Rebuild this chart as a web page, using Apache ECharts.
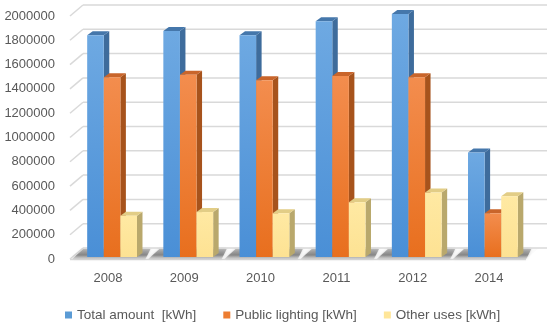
<!DOCTYPE html>
<html><head><meta charset="utf-8">
<script src="https://cdn.jsdelivr.net/npm/echarts@6/dist/echarts.min.js"></script>
<style>html,body{margin:0;padding:0;background:#fff}#c{width:550px;height:326px}</style>
</head><body><div id="c"></div>
<script>
const categories = ['2008', '2009', '2010', '2011', '2012', '2014'];
const totalAmount = [1825000, 1860000, 1825000, 1940000, 2000000, 860000];
const publicLighting = [1480000, 1500000, 1455000, 1490000, 1480000, 360000];
const otherUses = [340000, 370000, 360000, 450000, 530000, 500000];
const yTicks = [0, 200000, 400000, 600000, 800000, 1000000, 1200000, 1400000, 1600000, 1800000, 2000000];
const seriesNames = ['Total amount  [kWh]', 'Public lighting [kWh]', 'Other uses [kWh]'];

const DX = 13, DY = -11;      // wall depth
const BDX = 5.5, BDY = -4;    // bar depth
const palette = [
  {front: ['#6ea9e2', '#4a8fd6'], side: '#3e6c9c', top: '#4577ab', legend: '#5b9bd5'},
  {front: ['#f38d4e', '#e86f1e'], side: '#a7531c', top: '#c9652b', legend: '#ed7d31'},
  {front: ['#ffe9a3', '#fde293'], side: '#b9a86c', top: '#e2cd86', legend: '#ffe699'}
];

function barGeom(params, api, idx) {
  const c = api.value(0), v = api.value(1);
  const top = api.coord([c, v]);
  const base = api.coord([c, 0]);
  const bw = api.size([1, 0])[0];
  const w = bw * 0.218;
  const x0 = top[0] + (idx - 1.5) * w + 4;
  return {x0: x0, x1: x0 + w, yT: top[1] - 2, yB: base[1] - 2, w: w};
}

function makeBar(idx) {
  const p = palette[idx];
  return function (params, api) {
    const g = barGeom(params, api, idx);
    return {
      type: 'group',
      children: [
        {type: 'polygon', shape: {points: [[g.x1, g.yB], [g.x1 + BDX, g.yB + BDY], [g.x1 + BDX, g.yT + BDY], [g.x1, g.yT]]},
          style: {fill: p.side}},
        {type: 'polygon', shape: {points: [[g.x0, g.yT], [g.x0 + BDX, g.yT + BDY], [g.x1 + BDX, g.yT + BDY], [g.x1, g.yT]]},
          style: {fill: p.top}},
        {type: 'rect', shape: {x: g.x0, y: g.yT, width: g.w, height: g.yB - g.yT},
          style: {fill: new echarts.graphic.LinearGradient(0, 0, 0, 1, [{offset: 0, color: p.front[0]}, {offset: 1, color: p.front[1]}])}}
      ]
    };
  };
}

function shadowItem(params, api) {
  const c = api.value(0);
  const base = api.coord([c, 0]);
  const bw = api.size([1, 0])[0];
  const w = bw * 0.218;
  const x0 = base[0] - 1.5 * w + 4;
  const x1 = x0 + 3 * w;
  const y = base[1];
  return {
    type: 'polygon',
    shape: {points: [[x0 - 15, y], [x1 + BDX + 3, y], [x1 + BDX + 8, y - 10], [x0 - 4, y - 10]]},
    style: {
      fill: new echarts.graphic.LinearGradient(0, 0, 0, 1, [
        {offset: 0, color: 'rgba(120,120,120,0.45)'},
        {offset: 0.6, color: 'rgba(110,110,110,0.75)'},
        {offset: 1, color: 'rgba(170,170,170,0.35)'}]),
      shadowBlur: 3, shadowColor: 'rgba(0,0,0,0.25)'
    }
  };
}

function wallItem(params, api) {
  const v = api.value(0);
  const cs = params.coordSys;
  const pt = api.coord([0, v]);
  const y = pt[1];
  const children = [
    {type: 'line', shape: {x1: cs.x, y1: y - DY, x2: cs.x + DX, y2: y}, style: {stroke: '#d9d9d9', lineWidth: 1.5}},
    {type: 'line', shape: {x1: cs.x + DX, y1: y, x2: cs.x + cs.width, y2: y}, style: {stroke: '#d9d9d9', lineWidth: 1.5}}
  ];
  if (v === 0) {
    children.unshift({type: 'polygon', shape: {points: [[cs.x, y - DY], [cs.x + cs.width - 2 * DX + 5, y - DY], [cs.x + cs.width - DX + 5, y], [cs.x + DX, y]]},
      style: {fill: '#fbfbfb'}});
    children.push({type: 'line', shape: {x1: cs.x, y1: y - DY + 0.5, x2: cs.x + cs.width - 2 * DX + 5, y2: y - DY + 0.5}, style: {stroke: '#d9d9d9', lineWidth: 1.5}});
  }
  return {type: 'group', children: children};
}

const chart = echarts.init(document.getElementById('c'), null, {renderer: 'canvas'});
const font = 'Liberation Sans, Arial, sans-serif';
chart.setOption({
  animation: false,
  textStyle: {fontFamily: font},
  legend: {
    data: seriesNames, top: 303, left: 60, itemWidth: 7, itemHeight: 7, itemGap: 27,
    icon: 'rect', textStyle: {fontSize: 13.5, color: '#595959', fontFamily: font}
  },
  grid: [
    {left: 70, right: 23, top: 16, bottom: 67, containLabel: false, outerBoundsMode: 'none'},
    {left: 70, right: 3, top: 5, bottom: 78, containLabel: false, outerBoundsMode: 'none'}
  ],
  xAxis: [
    {type: 'category', data: categories, gridIndex: 0, axisLine: {show: false}, axisTick: {show: false},
      axisLabel: {fontSize: 13, color: '#595959', margin: 13, fontFamily: font}},
    {type: 'category', data: categories, gridIndex: 1, show: false}
  ],
  yAxis: [
    {type: 'value', gridIndex: 0, min: 0, max: 2000000, interval: 200000, axisLine: {show: false}, axisTick: {show: false},
      splitLine: {show: false}, axisLabel: {fontSize: 13, color: '#595959', margin: 15, fontFamily: font,
        formatter: v => String(v)}},
    {type: 'value', gridIndex: 1, min: 0, max: 2000000, interval: 200000, show: false, splitLine: {show: false}}
  ],
  series: [
    {type: 'custom', name: 'wall', xAxisIndex: 1, yAxisIndex: 1, renderItem: wallItem, silent: true,
      data: yTicks.map(v => [v]), encode: {x: -1, y: 0}, z: 1},
    {type: 'custom', name: 'shadow', renderItem: shadowItem, silent: true,
      data: categories.map((c, i) => [i, 0]), encode: {x: 0, y: 1}, z: 2},
    {type: 'custom', name: seriesNames[0], renderItem: makeBar(0), itemStyle: {color: palette[0].legend},
      data: totalAmount.map((v, i) => [i, v]), encode: {x: 0, y: 1}, z: 3},
    {type: 'custom', name: seriesNames[1], renderItem: makeBar(1), itemStyle: {color: palette[1].legend},
      data: publicLighting.map((v, i) => [i, v]), encode: {x: 0, y: 1}, z: 4},
    {type: 'custom', name: seriesNames[2], renderItem: makeBar(2), itemStyle: {color: palette[2].legend},
      data: otherUses.map((v, i) => [i, v]), encode: {x: 0, y: 1}, z: 5}
  ]
});
</script></body></html>
